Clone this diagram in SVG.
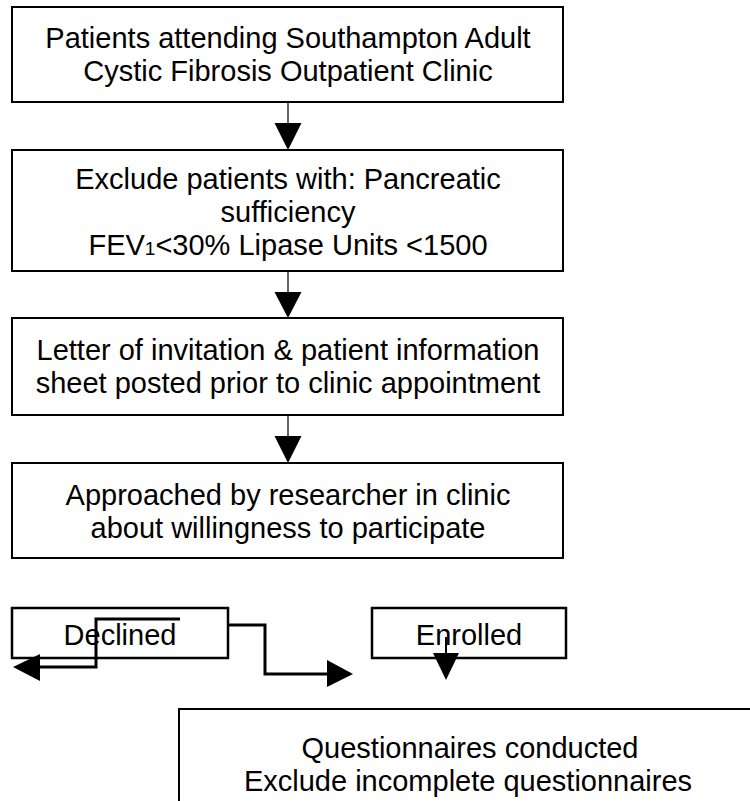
<svg xmlns="http://www.w3.org/2000/svg" width="750" height="801" viewBox="0 0 750 801">
<style>
.box{fill:#fff;stroke:#000;stroke-width:2}
.sbox{fill:none;stroke:#000;stroke-width:2.5}
.t{font-family:"Liberation Sans",Arial,sans-serif;font-size:29px;fill:#000;text-anchor:middle}
.thin{stroke:#000;stroke-width:1.2;fill:none}
.thick{stroke:#000;stroke-width:3;fill:none}
.mid{stroke:#000;stroke-width:2;fill:none}
.head{fill:#000;stroke:none}
</style>
<rect width="750" height="801" fill="#fff"/>
<g id="n1">
<rect class="box" x="12" y="7" width="551" height="95"/>
<text class="t" x="288" y="48">Patients attending Southampton Adult</text>
<text class="t" x="288" y="81">Cystic Fibrosis Outpatient Clinic</text>
</g>
<g id="n2">
<rect class="box" x="12" y="150" width="551" height="121"/>
<text class="t" x="288" y="189">Exclude patients with: Pancreatic</text>
<text class="t" x="288" y="222">sufficiency</text>
<text class="t" x="288" y="255">FEV<tspan font-size="19">1</tspan>&lt;30% Lipase Units &lt;1500</text>
</g>
<g id="n3">
<rect class="box" x="12" y="318" width="551" height="97"/>
<text class="t" x="288" y="360">Letter of invitation &amp; patient information</text>
<text class="t" x="288" y="393">sheet posted prior to clinic appointment</text>
</g>
<g id="n4">
<rect class="box" x="12" y="463" width="551" height="95"/>
<text class="t" x="288" y="505">Approached by researcher in clinic</text>
<text class="t" x="288" y="538">about willingness to participate</text>
</g>
<g id="n5">
<rect class="sbox" x="12" y="608" width="216" height="50"/>
<text class="t" x="120" y="645">Declined</text>
</g>
<g id="n6">
<rect class="sbox" x="372" y="608" width="194" height="50"/>
<text class="t" x="469" y="645">Enrolled</text>
</g>
<g id="n7">
<rect class="box" x="179" y="709" width="600" height="120"/>
<text class="t" x="470" y="758">Questionnaires conducted</text>
<text class="t" x="468" y="791">Exclude incomplete questionnaires</text>
</g>
<g id="connectors">
<line class="thin" x1="288" y1="102" x2="288" y2="124"/>
<polygon class="head" points="274.5,123 301.5,123 288,150"/>
<line class="thin" x1="288" y1="271" x2="288" y2="293"/>
<polygon class="head" points="274.5,292 301.5,292 288,318"/>
<line class="thin" x1="288" y1="415" x2="288" y2="437"/>
<polygon class="head" points="274.5,436 301.5,436 288,463"/>
<line class="mid" x1="446" y1="637" x2="446" y2="654"/>
<polygon class="head" points="433,653 459,653 446,680"/>
<polyline class="thick" points="180,619 96,619 96,667 39,667"/>
<polygon class="head" points="40,654 40,681 13,667"/>
<polyline class="thick" points="228,625 265,625 265,674 328,674"/>
<polygon class="head" points="327,660 327,687 353,674"/>
</g>
</svg>
